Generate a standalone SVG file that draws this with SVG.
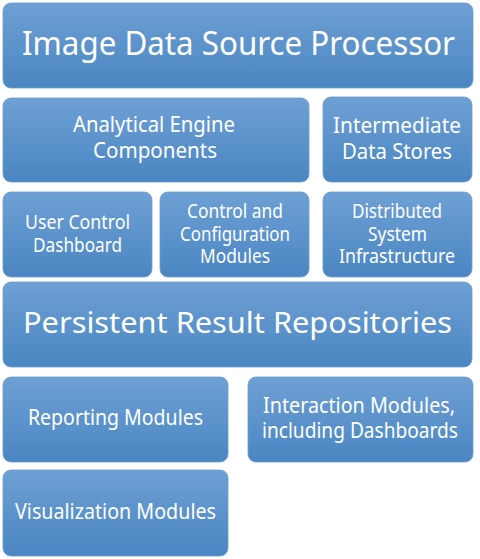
<svg xmlns="http://www.w3.org/2000/svg" width="480" height="559" viewBox="0 0 480 559">
<defs>
<linearGradient id="g" x1="0" y1="0" x2="0" y2="1">
<stop offset="0" stop-color="#6ea0d4"/>
<stop offset="1" stop-color="#4a86c2"/>
</linearGradient>
<style>
.box{fill:url(#g);stroke:#6a9dd2;stroke-width:0.8}
text{font-family:"Noto Sans","Liberation Sans",sans-serif;fill:#ffffff;text-anchor:middle}
.t1{font-size:32px}
.t2{font-size:21px}
.t3{font-size:19.5px}
.t4{font-size:21.5px}
</style>
</defs>
<rect width="480" height="559" fill="#ffffff"/>
<g id="connectors"/>
<g id="image-data-source-processor">
<rect class="box" x="3" y="3" width="470" height="85" rx="8"/>
<text class="t1" x="238.5" y="55" textLength="433" lengthAdjust="spacingAndGlyphs">Image Data Source Processor</text>
</g>
<g id="analytical-engine-components">
<rect class="box" x="3" y="98" width="306" height="84" rx="8"/>
<text class="t2" x="154" y="132" textLength="162" lengthAdjust="spacingAndGlyphs">Analytical Engine</text>
<text class="t2" x="155" y="158" textLength="124" lengthAdjust="spacingAndGlyphs">Components</text>
</g>
<g id="intermediate-data-stores">
<rect class="box" x="323" y="97" width="149" height="85" rx="8"/>
<text class="t2" x="397" y="133" textLength="128" lengthAdjust="spacingAndGlyphs">Intermediate</text>
<text class="t2" x="397" y="159" textLength="110" lengthAdjust="spacingAndGlyphs">Data Stores</text>
</g>
<g id="user-control-dashboard">
<rect class="box" x="3" y="192" width="149" height="85" rx="8"/>
<text class="t3" x="77.5" y="229" textLength="105" lengthAdjust="spacingAndGlyphs">User Control</text>
<text class="t3" x="77.5" y="252" textLength="89" lengthAdjust="spacingAndGlyphs">Dashboard</text>
</g>
<g id="control-and-configuration-modules">
<rect class="box" x="160" y="192" width="149" height="85" rx="8"/>
<text class="t3" x="235" y="218" textLength="96" lengthAdjust="spacingAndGlyphs">Control and</text>
<text class="t3" x="235" y="241" textLength="110" lengthAdjust="spacingAndGlyphs">Configuration</text>
<text class="t3" x="235" y="263" textLength="70" lengthAdjust="spacingAndGlyphs">Modules</text>
</g>
<g id="distributed-system-infrastructure">
<rect class="box" x="323" y="192" width="149" height="85" rx="8"/>
<text class="t3" x="397" y="218" textLength="90" lengthAdjust="spacingAndGlyphs">Distributed</text>
<text class="t3" x="397.5" y="241" textLength="59" lengthAdjust="spacingAndGlyphs">System</text>
<text class="t3" x="397" y="263" textLength="116" lengthAdjust="spacingAndGlyphs">Infrastructure</text>
</g>
<g id="persistent-result-repositories">
<rect class="box" x="3" y="282" width="469" height="85" rx="8"/>
<text class="t1" style="font-size:29.5px" x="237.5" y="333" textLength="429" lengthAdjust="spacingAndGlyphs">Persistent Result Repositories</text>
</g>
<g id="reporting-modules">
<rect class="box" x="3" y="377" width="225" height="85" rx="8"/>
<text class="t4" x="115.5" y="425" textLength="175" lengthAdjust="spacingAndGlyphs">Reporting Modules</text>
</g>
<g id="interaction-modules">
<rect class="box" x="248" y="377" width="225" height="85" rx="8"/>
<text class="t4" x="359" y="413" textLength="192" lengthAdjust="spacingAndGlyphs">Interaction Modules,</text>
<text class="t4" x="360" y="438" textLength="196" lengthAdjust="spacingAndGlyphs">including Dashboards</text>
</g>
<g id="visualization-modules">
<rect class="box" x="3" y="470" width="225" height="86" rx="8"/>
<text class="t4" x="115.5" y="519" textLength="201" lengthAdjust="spacingAndGlyphs">Visualization Modules</text>
</g>
</svg>
